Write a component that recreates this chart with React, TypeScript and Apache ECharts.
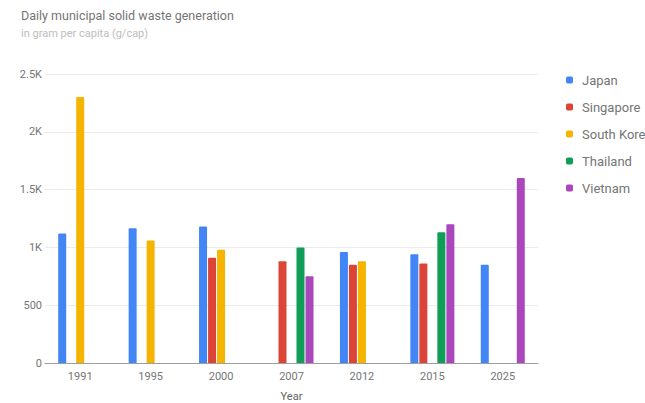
import React, { useEffect, useRef } from "react";
import * as echarts from "echarts";

const years = ["1991", "1995", "2000", "2007", "2012", "2015", "2025"];
const seriesNames = ["Japan", "Singapore", "South Korea", "Thailand", "Vietnam"];
const japan: (number | string)[] = [1120, 1166, 1180, "-", 960, 940, 850];
const singapore: (number | string)[] = ["-", "-", 910, 880, 850, 860, "-"];
const southKorea: (number | string)[] = [2300, 1060, 980, "-", 880, "-", "-"];
const thailand: (number | string)[] = ["-", "-", "-", 1000, "-", 1130, "-"];
const vietnam: (number | string)[] = ["-", "-", "-", 750, "-", 1200, 1600];
const colors = ["#4285F4", "#DB4437", "#F4B400", "#0F9D58", "#AB47BC"];

export default function App() {
  const ref = useRef<HTMLDivElement>(null);
  useEffect(() => {
    if (!ref.current) return;
    const chart = echarts.init(ref.current, undefined, { renderer: "svg" });
    const data = [japan, singapore, southKorea, thailand, vietnam];
    chart.setOption({
      animation: false,
      color: colors,
      textStyle: { fontFamily: "Roboto" },
      title: {
        text: "Daily municipal solid waste generation",
        subtext: "in gram per capita (g/cap)",
        left: 16,
        top: 4,
        itemGap: 6,
        textStyle: { fontSize: 12.5, fontWeight: "normal", color: "#757575", fontFamily: "Roboto" },
        subtextStyle: { fontSize: 11, color: "#bdbdbd", fontFamily: "Roboto" },
      },
      legend: {
        orient: "vertical",
        left: 561,
        top: 68,
        icon: "roundRect",
        itemWidth: 7,
        itemHeight: 7,
        itemGap: 13,
        textStyle: {
          fontSize: 13,
          color: "#757575",
          fontFamily: "Roboto",
          lineHeight: 14,
          padding: [0, 0, 0, 4],
          width: 68,
          overflow: "truncate",
          ellipsis: "",
        },
        data: seriesNames,
      },
      grid: { left: 45, right: 107, top: 74, bottom: 40, outerBoundsMode: "none", containLabel: false },
      xAxis: {
        type: "category",
        data: years,
        name: "Year",
        nameLocation: "middle",
        nameGap: 28,
        nameTextStyle: { fontSize: 11, color: "#616161" },
        axisLine: { lineStyle: { color: "#9e9e9e" } },
        axisTick: { show: false },
        axisLabel: { fontSize: 11, color: "#757575", margin: 8 },
      },
      yAxis: {
        type: "value",
        min: 0,
        max: 2500,
        interval: 500,
        axisLabel: {
          fontSize: 11,
          color: "#757575",
          margin: 3,
          formatter: (v: number) => (v >= 1000 ? v / 1000 + "K" : String(v)),
        },
        splitLine: { lineStyle: { color: "#ebebeb" } },
        axisLine: { show: false },
        axisTick: { show: false },
      },
      series: seriesNames.map((name, i) => ({
        name,
        type: "bar",
        data: data[i],
        barCategoryGap: "37.5%",
        barGap: "12.5%",
        itemStyle: { borderRadius: [1, 1, 0, 0] },
      })),
    });
    return () => chart.dispose();
  }, []);
  return (
    <div
      ref={ref}
      style={{ position: "fixed", left: 0, top: 0, width: 645, height: 403, background: "#fff" }}
    />
  );
}
